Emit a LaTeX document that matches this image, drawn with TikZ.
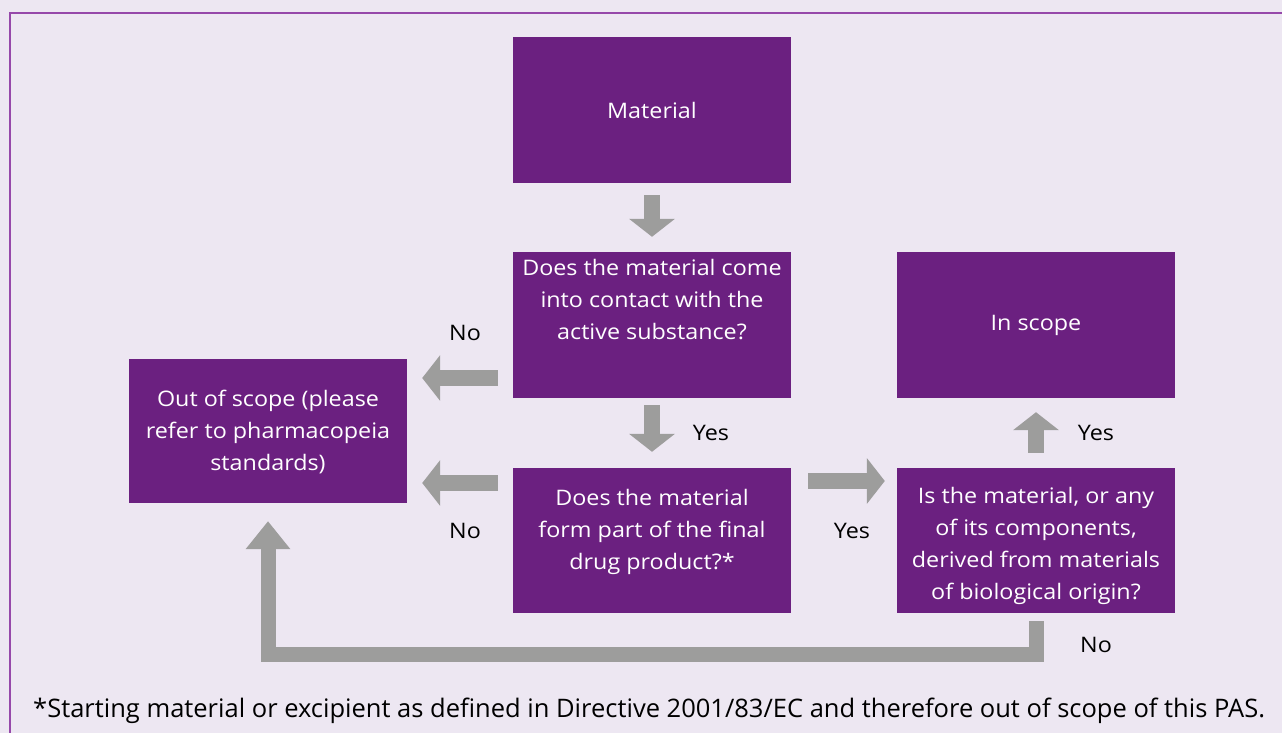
\documentclass[tikz,border=0pt]{standalone}
\usepackage{fontspec}
\setmainfont{Open Sans}
\newfontfamily\boxfont{Open Sans}[FakeStretch=1.09]
\usetikzlibrary{arrows.meta}
\definecolor{bgc}{HTML}{EDE7F2}
\definecolor{boxc}{HTML}{6B2080}
\definecolor{framec}{HTML}{9648AA}
\definecolor{arrc}{HTML}{9D9D9C}
\tikzset{
  box/.style={fill=boxc, draw=none, minimum width=278pt, minimum height=146pt, inner sep=0pt},
  btxt/.style={text=white, align=center, font=\boxfont\fontsize{21.4}{32}\selectfont, inner sep=0pt},
  lbl/.style={text=black, font=\boxfont\fontsize{21.4}{32}\selectfont, inner sep=0pt},
  bigarrow/.style={draw=arrc, line width=16pt, -{Triangle[width=45pt,length=18pt]}},
  retarrow/.style={draw=arrc, line width=15pt, line join=miter, -{Triangle[width=43pt,length=28pt]}}
}
\begin{document}
\begin{tikzpicture}[x=1pt,y=-1pt]
\fill[bgc] (0,0) rectangle (1282,733);
\useasboundingbox (0,0) rectangle (1282,733);
\draw[framec, line width=1.6pt] (9.8,733) -- (9.8,13.2) -- (1282,13.2);

\node[box] (m) at (652,110) {};
\node[btxt] at (m.center) {Material};
\node[box] (q1) at (652,325) {};
\node[btxt] at ([yshift=25pt]q1.center) {Does the material come\\into contact with the\\active substance?};
\node[box, minimum height=144pt] (oos) at (268,431) {};
\node[btxt] at ([yshift=-1pt]oos.center) {Out of scope (please\\refer to pharmacopeia\\standards)};
\node[box, minimum height=145pt] (q2) at (652,540.5) {};
\node[btxt] at ([yshift=9pt]q2.center) {Does the material\\form part of the final\\drug product?*};
\node[box, minimum height=145pt] (bio) at (1036,540.5) {};
\node[btxt] at ([yshift=-5pt]bio.center) {Is the material, or any\\of its components,\\derived from materials\\of biological origin?};
\node[box] (ins) at (1036,325) {};
\node[btxt] at (ins.center) {In scope};

\draw[bigarrow] ([yshift=-12pt]m.south) -- ([yshift=15pt]q1.north);
\draw[bigarrow] ([xshift=-15pt]q1.west |- 0,378) -- ([xshift=15pt]oos.east |- 0,378);
\draw[bigarrow] ([xshift=-15pt]q2.west |- 0,483) -- ([xshift=15pt]oos.east |- 0,483);
\draw[bigarrow] ([yshift=-7pt]q1.south) -- ([yshift=16pt]q2.north);
\draw[bigarrow] ([xshift=17pt]q2.east |- 0,481) -- ([xshift=-12pt]bio.west |- 0,481);
\draw[bigarrow] ([yshift=15pt]bio.north) -- ([yshift=-14pt]ins.south);
\draw[retarrow] ([yshift=-8pt]bio.south) -- (1036,654) -- (268,654) -- ([yshift=-18pt]oos.south);

\node[lbl] at (465,333) {No};
\node[lbl] at (465,531) {No};
\node[lbl] at (711,433) {Yes};
\node[lbl] at (852,531) {Yes};
\node[lbl] at (1096,433) {Yes};
\node[lbl] at (1096,645) {No};

\node[anchor=base west, inner sep=0pt, font=\fontsize{25.5}{30}\selectfont] (foot) at (33,717) {*Starting material or excipient as defined in Directive 2001/83/EC and therefore out of scope of this PAS.};
\end{tikzpicture}
\end{document}
